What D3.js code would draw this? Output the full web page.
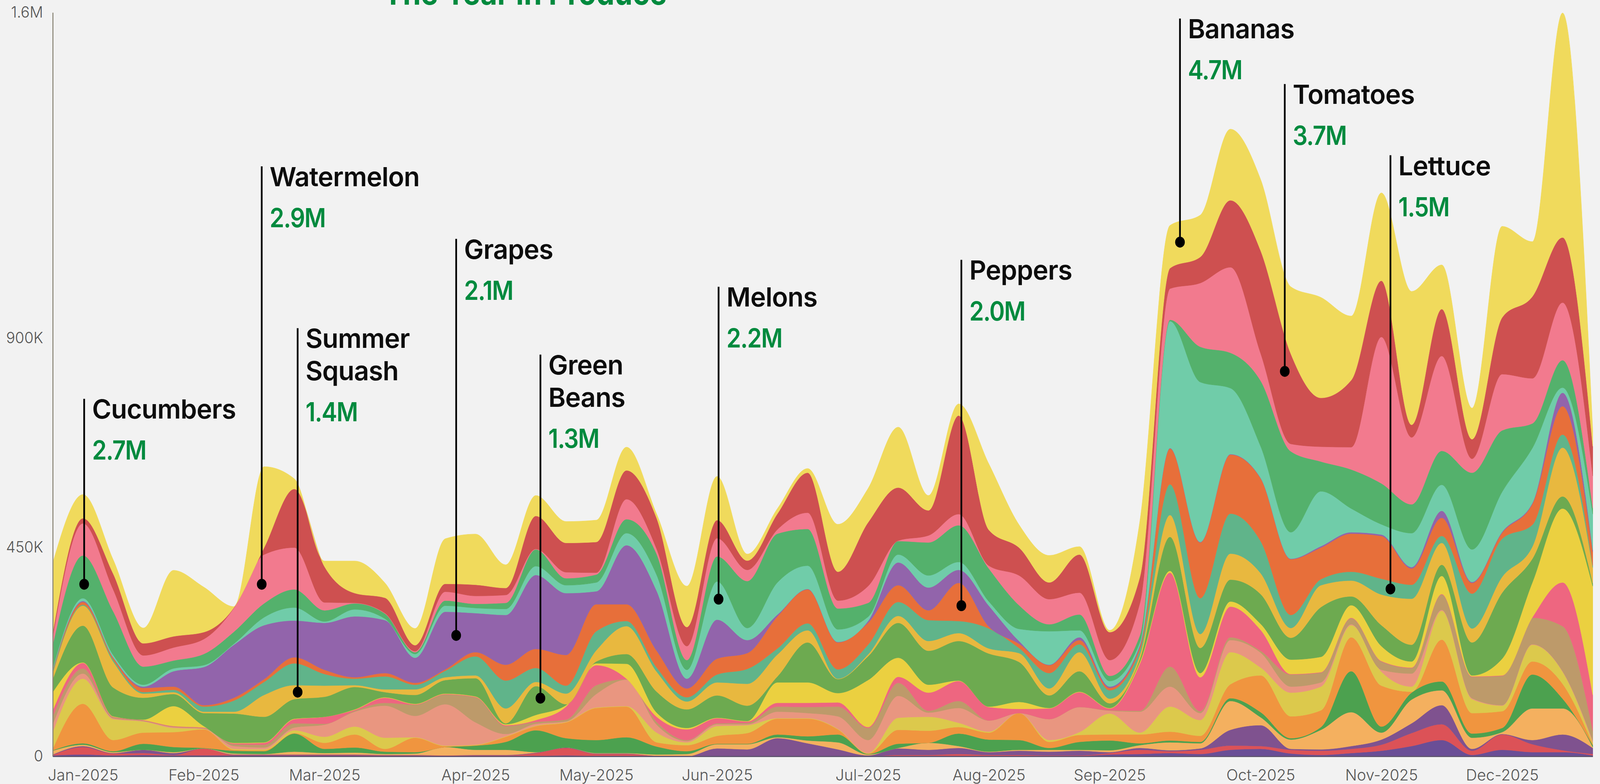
<!DOCTYPE html>
<meta charset="utf-8">
<head>
<style>
  html, body { margin: 0; background: #f2f2f2; overflow: hidden; }
  .tick-label { font-family: Inter, sans-serif; font-weight: 300; font-size: 40px; fill: #555; }
  .name { font-family: Inter, sans-serif; font-weight: 600; font-size: 68px; fill: #0d0d0d; letter-spacing: -1px; }
  .amount { font-family: Inter, sans-serif; font-weight: 600; font-size: 68px; fill: #008a3e; letter-spacing: -2px; }
  .title { font-family: Inter, sans-serif; font-weight: 700; font-size: 84px; fill: #008a3e; }
</style>
</head>
<script src="https://d3js.org/d3.v7.min.js"></script>
<div id="chart"></div>
<script>
// weekly sales in thousands, 52 weeks
const bananas = [150,51,30,33,142,97,2,174,22,12,69,32,36,97,109,50,44,46,47,50,9,88,94,14,11,9,102,73,130,32,25,142,49,58,17,4,120,92,90,153,153,144,216,138,189,287,95,67,196,118,483,33];
const tomatoes = [9,11,34,26,24,15,1,15,126,77,21,33,13,17,24,15,71,63,66,62,66,41,39,20,34,86,62,137,114,54,212,77,60,36,82,60,56,44,56,144,221,194,105,144,121,27,101,42,122,176,140,64];
const watermelon = [17,69,47,24,28,32,51,105,90,17,1,1,2,19,17,17,1,13,4,43,11,30,39,24,9,35,17,36,1,15,24,6,64,54,47,34,69,67,137,184,59,16,32,48,315,144,204,30,121,97,124,69];
const cucumbers = [51,92,94,39,17,24,26,30,39,24,13,11,4,11,9,13,36,15,17,30,45,21,54,101,105,79,45,30,29,71,79,71,51,15,34,11,15,3,76,76,141,174,64,84,88,62,73,165,132,53,59,13];
const melons = [3,6,5,4,6,4,2,17,28,3,15,3,8,13,11,13,19,17,19,26,34,19,82,26,69,50,27,9,17,26,17,9,26,72,15,12,6,273,344,142,68,57,118,51,22,73,56,70,86,118,11,77];
const grapes = [1,2,1,3,33,82,114,116,79,101,131,114,54,124,84,107,159,133,28,127,129,21,84,28,4,1,1,4,49,49,28,45,6,1,6,3,4,1,1,1,1,1,3,3,3,3,15,2,2,2,29,4];
const peppers = [2,6,4,9,7,3,6,6,13,9,3,7,4,3,9,34,41,66,58,36,36,19,34,34,69,73,58,47,36,21,82,4,9,17,9,5,6,77,120,127,135,120,68,82,92,35,39,23,13,45,61,30];
const lettuce = [4,2,4,3,5,11,24,28,47,25,14,28,10,14,41,60,30,17,41,11,9,9,17,32,13,15,20,21,30,45,26,43,11,33,17,18,11,66,77,86,69,28,13,19,34,30,15,75,82,47,28,4];
const summerSquash = [13,43,56,9,4,3,4,47,30,24,4,6,12,6,6,32,9,23,24,60,43,17,28,47,47,26,1,4,15,21,17,11,19,15,41,10,9,47,30,56,45,21,47,34,66,99,47,30,34,26,105,34];
const greenBeans = [28,79,62,47,26,28,63,55,42,43,48,11,19,29,39,2,62,2,4,21,45,40,48,33,13,86,30,51,75,73,85,114,86,27,44,10,6,73,54,47,64,47,107,19,45,36,24,71,142,51,26,6];
const other11 = [39,1,1,1,43,3,1,1,1,0,1,1,1,1,1,2,11,3,4,32,9,3,1,1,44,44,20,101,41,17,1,1,15,1,1,1,4,4,9,11,13,31,33,27,32,13,39,2,36,75,159,234];
const other10 = [13,12,1,1,1,1,2,4,9,15,2,11,1,1,1,2,4,28,43,1,11,23,11,3,8,9,9,2,13,39,43,29,9,23,32,4,101,202,73,66,45,1,1,1,1,1,1,1,1,1,94,77];
const other9 = [17,11,2,1,1,1,4,6,9,2,2,6,24,21,54,17,4,4,19,1,6,2,2,3,11,13,21,26,28,4,15,0,0,0,0,1,2,43,4,6,4,26,21,13,18,12,33,46,63,57,97,21];
const other8 = [17,11,2,1,2,1,6,4,6,26,32,69,46,89,48,5,4,1,29,57,17,3,4,2,14,11,27,28,47,9,32,24,0,45,54,6,45,43,15,26,32,13,9,2,4,28,2,2,1,1,1,4];
const other7 = [36,54,45,24,9,1,2,2,6,13,17,24,1,1,1,1,1,1,1,1,21,6,21,17,1,1,1,1,26,30,9,2,0,4,6,45,4,54,34,69,17,51,51,26,30,11,62,30,12,36,26,4];
const other6 = [3,85,24,24,32,40,2,2,1,13,28,6,31,2,1,11,9,34,69,66,9,13,17,23,34,38,11,1,30,26,14,15,58,13,15,13,19,19,13,30,79,47,36,73,88,2,90,44,36,28,32,2];
const other5 = [1,3,2,13,11,1,6,6,39,9,11,5,3,0,9,17,47,20,28,34,17,6,1,1,6,9,17,1,9,0,27,26,21,4,17,21,4,4,3,6,11,3,6,88,13,15,19,9,9,73,21,4];
const other4 = [8,3,2,0,2,0,2,1,6,3,4,2,3,18,11,11,1,0,1,1,3,5,9,11,2,6,15,2,1,15,4,1,2,4,2,4,6,17,11,62,17,20,42,73,15,51,32,24,4,68,56,2];
const other3 = [1,2,1,7,4,0,1,1,1,1,1,1,1,0,1,1,1,1,1,1,0,0,17,15,39,28,15,2,14,11,13,6,9,8,10,2,4,2,3,34,45,2,3,6,11,21,41,4,1,9,34,13];
const other2 = [1,16,4,4,1,15,1,1,1,1,1,1,1,1,1,1,6,16,4,4,1,0,0,0,0,0,0,0,2,2,4,2,2,1,1,3,9,4,9,9,6,8,9,9,13,28,34,9,33,17,4,3];
const other1 = [2,4,2,3,2,2,2,2,2,2,2,1,1,1,1,1,1,2,1,1,0,0,0,0,0,0,0,0,1,1,1,1,1,1,1,4,5,7,5,14,16,6,3,7,12,22,35,3,14,9,9,2];

// bottom to top
const layers = [other1, other2, other3, other4, other5, other6, other7, other8, other9, other10, other11,
  greenBeans, summerSquash, lettuce, peppers, grapes, melons, cucumbers, watermelon, tomatoes, bananas];
const colors = ["#6a4e96", "#dc5257", "#7f528f", "#f4b05f", "#4ca14f", "#f0953f", "#dcc94c", "#e99680", "#bd9a6a", "#ee6680", "#ebd040",
  "#6daa50", "#e8b83f", "#60b48a", "#e76f3a", "#9264ab", "#70cca9", "#54b16c", "#f27a8e", "#ce5050", "#f0da5c"];

const monthWeeks = [1, 5, 9, 14, 18, 22, 27, 31, 35, 40, 44, 48];
const monthLabels = ["Jan-2025", "Feb-2025", "Mar-2025", "Apr-2025", "May-2025", "Jun-2025", "Jul-2025", "Aug-2025", "Sep-2025", "Oct-2025", "Nov-2025", "Dec-2025"];
const yTicks = [0, 450, 900, 1600];
const yLabels = ["0", "450K", "900K", "1.6M"];

// callouts: week and value of the dot, value where the line stops
const calloutNames = [["Cucumbers"], ["Watermelon"], ["Summer", "Squash"], ["Grapes"], ["Green", "Beans"], ["Melons"], ["Peppers"], ["Bananas"], ["Tomatoes"], ["Lettuce"]];
const calloutTotals = ["2.7M", "2.9M", "1.4M", "2.1M", "1.3M", "2.2M", "2.0M", "4.7M", "3.7M", "1.5M"];
const calloutWeeks = [1.04, 6.92, 8.11, 13.36, 16.15, 22.05, 30.09, 37.33, 40.8, 44.3];
const calloutDots = [370, 370, 138, 260, 125, 338, 324, 1106, 828, 360];
const calloutTops = [769, 1269, 921, 1113, 864, 1010, 1068, 1587, 1446, 1293];

const width = 4640, height = 2008;
const nameLeading = 83, amountGap = 105;

// widen a text to the wider glyphs of the original typeface
function stretch(sel, k) {
  sel.each(function () {
    d3.select(this)
      .attr("textLength", this.getComputedTextLength() * k)
      .attr("lengthAdjust", "spacingAndGlyphs");
  });
}

const svg = d3.select("#chart").append("svg")
  .attr("viewBox", "0 0 " + width + " " + height)
  .attr("preserveAspectRatio", "none")
  .style("width", "100vw")
  .style("height", "100vh")
  .style("display", "block");

const x = d3.scaleLinear().domain([0, 51]).range([153, 4619]);
const y = d3.scaleLinear().domain([0, 1600]).range([1937, 32]);

const rows = d3.range(52).map(w => layers.map(s => s[w]));
const stack = d3.stack().keys(d3.range(layers.length));
const area = d3.area()
  .x((d, i) => x(i))
  .y0(d => y(d[0]))
  .y1(d => y(d[1]))
  .curve(d3.curveMonotoneX);

svg.append("g").selectAll("path")
  .data(stack(rows))
  .enter()
  .append("path")
  .attr("d", area)
  .attr("fill", (d, i) => colors[i])
  .attr("stroke", (d, i) => colors[i])
  .attr("stroke-width", 1);

// y axis
const yAxis = svg.append("g")
  .attr("transform", "translate(153,0)")
  .call(d3.axisLeft(y).tickValues(yTicks).tickSize(0).tickPadding(28).tickFormat((d, i) => yLabels[i]));
yAxis.select(".domain").attr("stroke", "#8b8778").attr("stroke-width", 3);
yAxis.selectAll("text").attr("class", "tick-label").call(stretch, 1.08);

// x axis
const xAxis = svg.append("g")
  .attr("transform", "translate(0,1937)")
  .call(d3.axisBottom(x).tickValues(monthWeeks).tickSize(0).tickPadding(34).tickFormat((d, i) => monthLabels[i]));
xAxis.select(".domain").attr("stroke", "#5f5570").attr("stroke-width", 3);
xAxis.selectAll("text").attr("class", "tick-label").call(stretch, 1.12);

// title, cut by the top of the page like the original
svg.append("text")
  .attr("class", "title")
  .attr("x", 1523)
  .attr("y", 12)
  .attr("text-anchor", "middle")
  .text("The Year in Produce");

// callouts
calloutNames.forEach((lines, i) => {
  const cx = x(calloutWeeks[i]);
  const top = y(calloutTops[i]);
  const g = svg.append("g");
  g.append("line")
    .attr("x1", cx).attr("x2", cx)
    .attr("y1", top).attr("y2", y(calloutDots[i]))
    .attr("stroke", "#000")
    .attr("stroke-width", 5);
  g.append("circle")
    .attr("cx", cx).attr("cy", y(calloutDots[i]))
    .attr("r", 14)
    .attr("fill", "#000");
  lines.forEach((t, j) => {
    g.append("text")
      .attr("class", "name")
      .attr("x", cx + 23)
      .attr("y", top + 51 + j * nameLeading)
      .text(t)
      .call(stretch, 1.12);
  });
  g.append("text")
    .attr("class", "amount")
    .attr("x", cx + 23)
    .attr("y", top + 51 + (lines.length - 1) * nameLeading + amountGap)
    .text(calloutTotals[i]);
});
</script>
